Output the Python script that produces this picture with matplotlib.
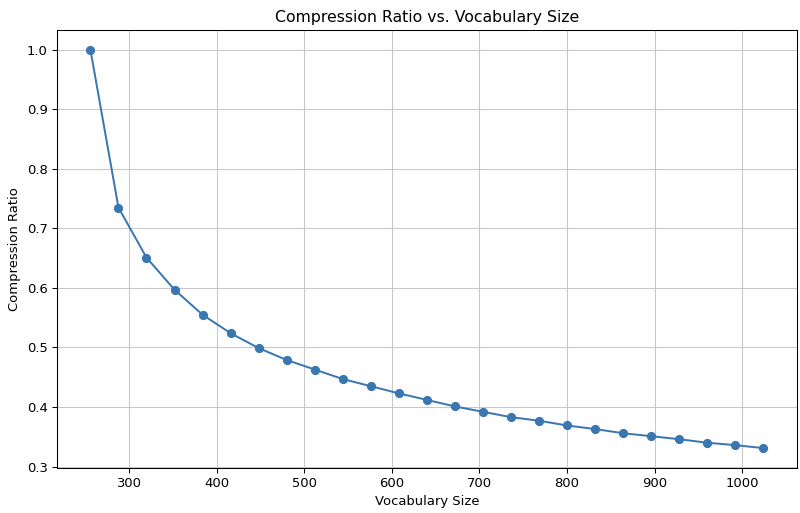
import numpy as np
import matplotlib.pyplot as plt

# vocab sizes from 256 to 1024, step 32
vocab_sizes = [256, 288, 320, 352, 384, 416, 448, 480, 512, 544, 576, 608, 640,
               672, 704, 736, 768, 800, 832, 864, 896, 928, 960, 992, 1024]
compression_ratios = [1.000, 0.735, 0.651, 0.597, 0.555, 0.524, 0.499, 0.479,
                      0.463, 0.447, 0.435, 0.423, 0.412, 0.401, 0.392, 0.383,
                      0.377, 0.369, 0.363, 0.356, 0.351, 0.346, 0.340, 0.336,
                      0.331]

DPI = 94.5
fig = plt.figure(figsize=(800 / DPI, 513 / DPI), dpi=DPI)
ax = fig.add_axes([0.071, 0.0877, 0.925, 0.854])
ax.plot(vocab_sizes, compression_ratios, marker='o', color='#3a76b0')
ax.set_title('Compression Ratio vs. Vocabulary Size')
ax.set_xlabel('Vocabulary Size')
ax.set_ylabel('Compression Ratio')
ax.grid(True, color='#c8c8c8')

fig.savefig('out.png', dpi=DPI)
